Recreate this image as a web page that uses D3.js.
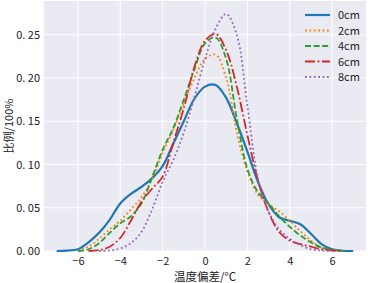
<!DOCTYPE html>
<html>
<head>
<meta charset="utf-8">
<script src="https://cdn.jsdelivr.net/npm/d3@7"></script>
<style>
  body { margin: 0; background: #fff; }
  text { font-family: "Noto Sans CJK SC", sans-serif; fill: #222; }
</style>
</head>
<body>
<div id="chart"></div>
<script>
// temperature deviation grid (°C) and density of each depth
const xs = [-7, -6.5, -6, -5.5, -5, -4.5, -4, -3.5, -3, -2.5, -2, -1.5, -1, -0.5, 0,
            0.5, 1, 1.5, 2, 2.5, 3, 3.5, 4, 4.5, 5, 5.5, 6, 6.5, 7];
const labels = ["0cm", "2cm", "4cm", "6cm", "8cm"];
const d0 = [0, 0.0005, 0.002, 0.010, 0.021, 0.036, 0.055, 0.066, 0.074, 0.084, 0.098, 0.124, 0.150, 0.176, 0.190,
            0.192, 0.177, 0.148, 0.115, 0.080, 0.054, 0.039, 0.035, 0.031, 0.020, 0.008, 0.002, 0.0003, 0];
const d2 = [null, null, 0, 0.005, 0.014, 0.025, 0.035, 0.048, 0.062, 0.083, 0.113, 0.140, 0.170, 0.200, 0.222,
            0.227, 0.200, 0.137, 0.092, 0.065, 0.054, 0.046, 0.035, 0.023, 0.012, 0.004, 0.001, 0, null];
const d4 = [null, null, 0, 0.002, 0.009, 0.021, 0.032, 0.040, 0.055, 0.085, 0.117, 0.142, 0.175, 0.210, 0.240,
            0.247, 0.222, 0.153, 0.095, 0.068, 0.055, 0.040, 0.028, 0.018, 0.010, 0.004, 0.001, 0, null];
const d6 = [null, null, null, 0, 0.001, 0.005, 0.015, 0.035, 0.057, 0.072, 0.086, 0.125, 0.165, 0.213, 0.243,
            0.251, 0.232, 0.190, 0.134, 0.082, 0.045, 0.022, 0.012, 0.008, 0.005, 0.002, 0.0005, 0, null];
const d8 = [null, null, null, null, 0, 0.0005, 0.003, 0.009, 0.022, 0.048, 0.080, 0.105, 0.137, 0.178, 0.222,
            0.257, 0.274, 0.250, 0.168, 0.084, 0.046, 0.025, 0.014, 0.007, 0.002, 0.0005, 0, null, null];
const series = [d0, d2, d4, d6, d8];
const xTicks = [-6, -4, -2, 0, 2, 4, 6];
const yTicks = [0, 0.05, 0.10, 0.15, 0.20, 0.25];

const colors = ["#1f77b4", "#ff7f0e", "#2ca02c", "#d62728", "#9467bd"];
const dashes = [null, "1.8 2.6", "6 2.6", "10 2.6 1.8 2.6", "1.8 2.6"];

const W = 368, H = 283;
const margin = { top: 1, right: 2, bottom: 32, left: 44 };
const width = W - margin.left - margin.right;
const height = H - margin.top - margin.bottom;

const svg = d3.select("#chart").append("svg")
    .attr("width", W)
    .attr("height", H);

const g = svg.append("g")
    .attr("transform", `translate(${margin.left},${margin.top})`);

const x = d3.scaleLinear().domain([-7.6, 7.6]).range([0, width]);
const y = d3.scaleLinear().domain([0, 0.289]).range([height, 0]);

g.append("rect")
    .attr("width", width)
    .attr("height", height)
    .attr("fill", "#eaeaf2");

// grid
g.selectAll(".vgrid")
    .data(xTicks)
    .enter().append("line")
    .attr("x1", d => x(d)).attr("x2", d => x(d))
    .attr("y1", 0).attr("y2", height)
    .attr("stroke", "#fff").attr("stroke-width", 1);

g.selectAll(".hgrid")
    .data(yTicks)
    .enter().append("line")
    .attr("y1", d => y(d)).attr("y2", d => y(d))
    .attr("x1", 0).attr("x2", width)
    .attr("stroke", "#fff").attr("stroke-width", 1);

// axes (no tick marks, only labels)
const xAxis = g.append("g")
    .attr("transform", `translate(0,${height})`)
    .call(d3.axisBottom(x).tickValues(xTicks).tickSize(0).tickPadding(6)
        .tickFormat(d => d < 0 ? "\u2212" + Math.abs(d) : d));
xAxis.select(".domain").remove();
xAxis.selectAll("text")
    .style("font-family", "\"Noto Sans CJK SC\", sans-serif")
    .style("font-size", "11px")
    .attr("fill", "#222");

const yAxis = g.append("g")
    .call(d3.axisLeft(y).tickValues(yTicks).tickSize(0).tickPadding(4)
        .tickFormat(d => d3.format(".2f")(d).replace(".", ". ")));
yAxis.select(".domain").remove();
yAxis.selectAll("text")
    .style("font-family", "\"Noto Sans CJK SC\", sans-serif")
    .style("font-size", "11px")
    .attr("fill", "#222");

svg.append("text")
    .attr("x", margin.left + x(0))
    .attr("y", 281)
    .attr("text-anchor", "middle")
    .style("font-size", "11.5px")
    .text("温度偏差/°C");

svg.append("text")
    .attr("transform", `translate(12.5,${margin.top + height / 2}) rotate(-90)`)
    .attr("text-anchor", "middle")
    .style("font-size", "11px")
    .text("比例/100%");

// density curves
const line = d3.line()
    .defined(d => d[1] !== null)
    .x(d => x(d[0]))
    .y(d => y(d[1]))
    .curve(d3.curveCatmullRom.alpha(0.5));

series.forEach((vals, i) => {
    g.append("path")
        .datum(xs.map((v, j) => [v, vals[j]]))
        .attr("d", line)
        .attr("fill", "none")
        .attr("stroke", colors[i])
        .attr("stroke-width", i === 0 ? 2.2 : 1.8)
        .attr("stroke-dasharray", dashes[i]);
});

// legend
const legend = svg.append("g")
    .attr("transform", "translate(305,15)");

labels.forEach((lab, i) => {
    const row = legend.append("g").attr("transform", `translate(0,${i * 15.5})`);
    row.append("line")
        .attr("x1", 0).attr("x2", 25)
        .attr("stroke", colors[i])
        .attr("stroke-width", i === 0 ? 2.2 : 1.8)
        .attr("stroke-dasharray", dashes[i]);
    row.append("text")
        .attr("x", 33)
        .attr("y", 4)
        .style("font-size", "11px")
        .text(lab);
});
</script>
</body>
</html>
